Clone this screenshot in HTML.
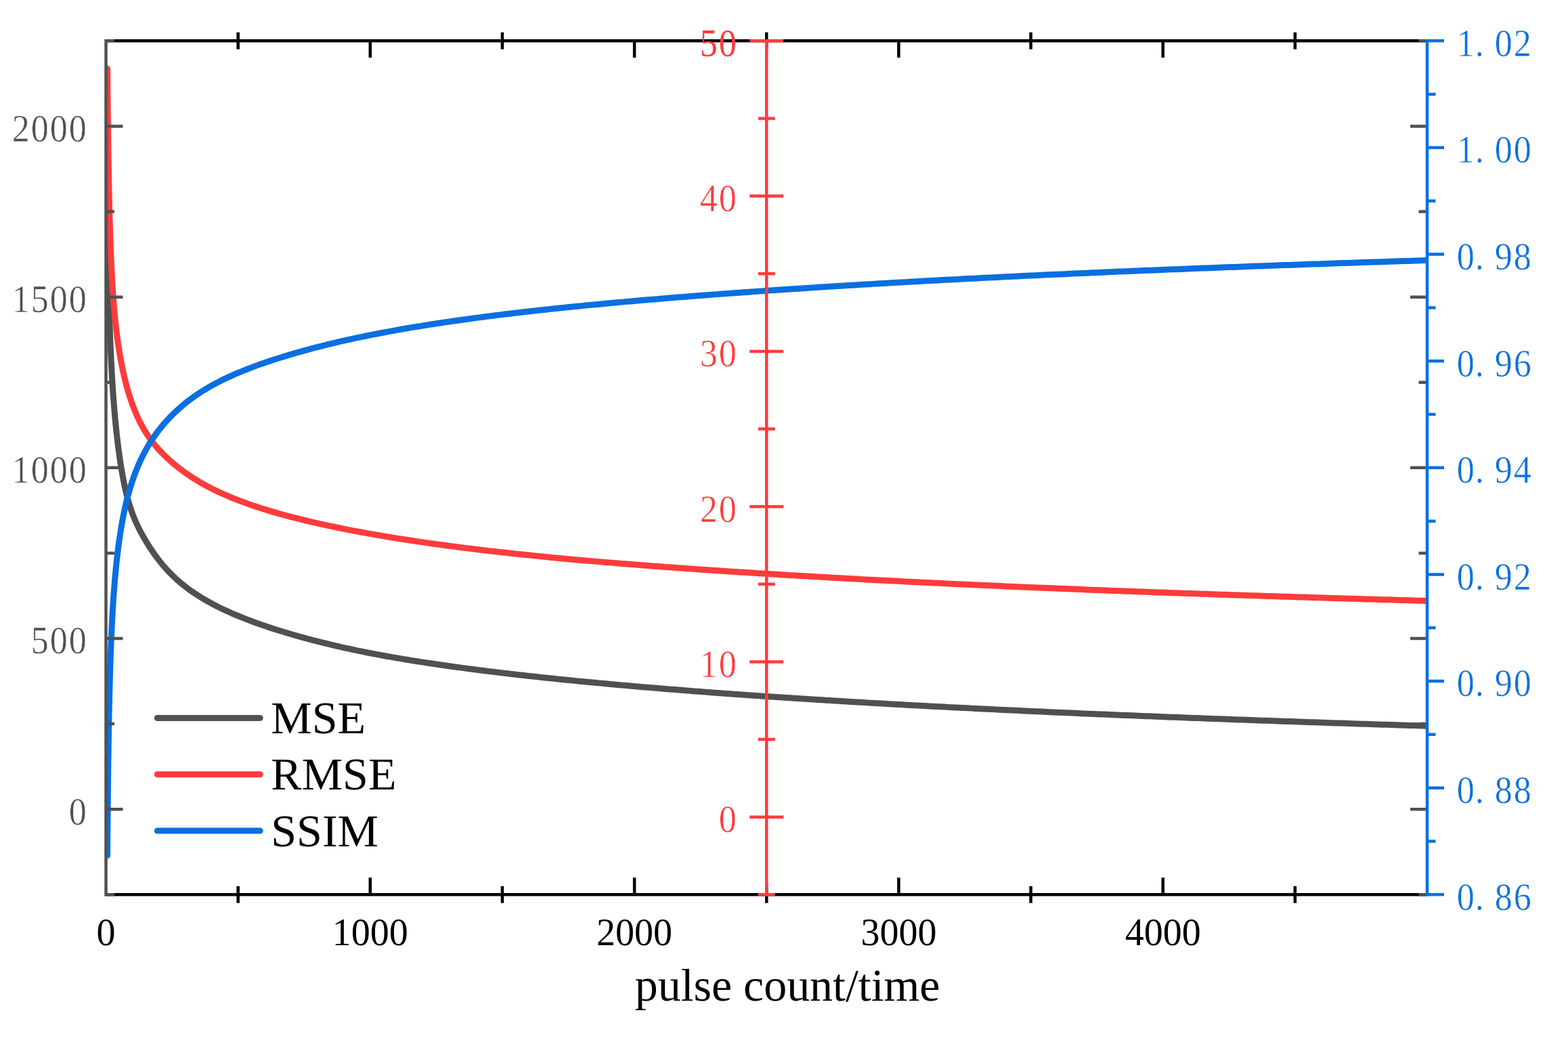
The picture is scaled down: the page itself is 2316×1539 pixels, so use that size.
<!DOCTYPE html>
<html lang="en"><head><meta charset="utf-8"><title>MSE, RMSE and SSIM versus pulse count/time</title>
<style>
html,body{margin:0;padding:0;background:#fff;}
body{width:2316px;height:1539px;overflow:hidden;}
svg{display:block;}
.tk{font-family:"Liberation Serif","Noto Serif CJK SC",serif;font-size:56px;}
.xl{font-family:"Liberation Serif",serif;font-size:56px;fill:#000;text-anchor:middle;}
.lg{font-family:"Liberation Serif",serif;font-size:68px;fill:#000;}
.ttl{font-family:"Liberation Serif",serif;font-size:67.9px;fill:#000;}
</style></head><body>
<svg xmlns="http://www.w3.org/2000/svg" width="2316" height="1539" viewBox="0 0 2316 1539">
<rect width="2316" height="1539" fill="#fff"/>
<clipPath id="plot"><rect x="156.5" y="60.35" width="1951.5" height="1260.95"/></clipPath>
<g fill="none" stroke-width="9" stroke-linecap="round" stroke-linejoin="round" clip-path="url(#plot)">
<path stroke="#505050" d="M158.58 335 L158.65 340.13 L158.73 345.27 L158.81 350.43 L158.89 355.43 L158.97 360.44 L159.06 365.46 L159.15 370.5 L159.24 375.55 L159.34 380.61 L159.43 385.68 L159.54 390.77 L159.64 395.87 L159.75 400.98 L159.87 406.1 L159.98 411.24 L160.1 416.39 L160.23 421.55 L160.35 426.55 L160.48 431.57 L160.62 436.59 L160.76 441.63 L160.9 446.68 L161.05 451.74 L161.2 456.82 L161.36 461.9 L161.52 467 L161.69 472.11 L161.87 477.22 L162.05 482.34 L162.23 487.47 L162.43 492.6 L162.63 497.73 L162.83 502.86 L163.05 508 L163.27 513.13 L163.49 518.26 L163.73 523.38 L163.97 528.5 L164.22 533.61 L164.48 538.71 L164.75 543.81 L165.03 548.89 L165.32 553.95 L165.61 559.01 L165.92 564.05 L166.24 569.07 L166.56 574.07 L166.91 579.23 L167.28 584.37 L167.65 589.49 L168.04 594.58 L168.44 599.66 L168.86 604.73 L169.29 609.77 L169.73 614.79 L170.2 619.8 L170.67 624.79 L171.18 629.92 L171.71 635.04 L172.26 640.14 L172.83 645.22 L173.41 650.28 L174.02 655.32 L174.65 660.35 L175.31 665.36 L175.99 670.34 L176.69 675.32 L177.41 680.26 L178.19 685.34 L179 690.39 L179.84 695.39 L180.7 700.35 L181.63 705.41 L182.6 710.4 L183.6 715.33 L184.67 720.33 L185.78 725.25 L186.98 730.21 L188.22 735.07 L189.55 739.95 L190.97 744.84 L192.5 749.71 L194.14 754.56 L195.85 759.27 L197.69 763.99 L199.66 768.71 L201.73 773.36 L203.9 777.94 L206.17 782.48 L208.55 786.99 L210.98 791.4 L213.52 795.83 L216.12 800.19 L218.76 804.48 L221.52 808.8 L224.32 813.04 L227.17 817.17 L230.13 821.31 L233.13 825.34 L236.25 829.36 L239.41 833.24 L242.69 837.11 L246.1 840.95 L249.54 844.64 L253.11 848.3 L256.7 851.8 L260.43 855.26 L264.29 858.68 L268.17 861.95 L272.19 865.19 L276.22 868.29 L280.25 871.26 L284.42 874.2 L288.57 877.01 L292.86 879.8 L297.12 882.46 L301.52 885.1 L305.89 887.63 L310.39 890.13 L314.84 892.53 L319.42 894.9 L323.95 897.17 L328.6 899.43 L333.17 901.58 L337.87 903.72 L342.48 905.76 L347.21 907.8 L351.84 909.73 L356.57 911.66 L361.43 913.59 L366.16 915.42 L371 917.25 L375.7 918.98 L380.5 920.71 L385.41 922.44 L390.16 924.08 L395.01 925.72 L399.96 927.36 L404.73 928.91 L409.59 930.47 L414.55 932.02 L419.6 933.57 L424.45 935.03 L429.39 936.5 L434.42 937.96 L439.54 939.42 L444.43 940.79 L449.4 942.16 L454.45 943.53 L459.6 944.89 L464.48 946.17 L469.44 947.44 L474.48 948.7 L479.6 949.97 L484.8 951.23 L489.71 952.4 L494.69 953.57 L499.74 954.73 L504.87 955.89 L510.08 957.05 L515.36 958.2 L520.31 959.26 L525.33 960.32 L530.41 961.37 L535.57 962.42 L540.79 963.47 L546.09 964.51 L551.01 965.46 L555.99 966.41 L561.04 967.35 L566.15 968.29 L571.33 969.23 L576.57 970.16 L581.87 971.09 L587.24 972.02 L592.19 972.86 L597.19 973.7 L602.25 974.53 L607.36 975.37 L612.54 976.2 L617.77 977.02 L623.06 977.85 L628.42 978.67 L633.83 979.5 L639.31 980.32 L644.3 981.05 L649.33 981.79 L654.42 982.52 L659.56 983.25 L664.75 983.98 L670 984.71 L675.3 985.44 L680.65 986.16 L686.07 986.89 L691.53 987.61 L697.06 988.33 L702.64 989.05 L707.64 989.69 L712.7 990.33 L717.8 990.97 L722.95 991.61 L728.14 992.24 L733.38 992.88 L738.67 993.51 L744.01 994.15 L749.4 994.78 L754.84 995.41 L760.33 996.04 L765.86 996.68 L771.45 997.31 L777.09 997.94 L782.07 998.49 L787.08 999.04 L792.14 999.59 L797.24 1000.14 L802.38 1000.69 L807.56 1001.24 L812.78 1001.79 L818.04 1002.34 L823.35 1002.88 L828.7 1003.43 L834.09 1003.98 L839.52 1004.53 L845 1005.07 L850.52 1005.62 L856.09 1006.16 L861.7 1006.71 L867.35 1007.25 L873.05 1007.8 L878.8 1008.34 L884.59 1008.89 L889.6 1009.35 L894.63 1009.82 L899.7 1010.28 L904.81 1010.75 L909.95 1011.21 L915.13 1011.68 L920.34 1012.14 L925.59 1012.6 L930.87 1013.07 L936.19 1013.53 L941.55 1013.99 L946.94 1014.46 L952.37 1014.92 L957.84 1015.38 L963.34 1015.84 L968.89 1016.3 L974.47 1016.76 L980.09 1017.23 L985.75 1017.69 L991.44 1018.15 L997.18 1018.61 L1002.95 1019.07 L1008.77 1019.52 L1014.62 1019.98 L1020.52 1020.44 L1026.46 1020.9 L1032.43 1021.36 L1037.44 1021.74 L1042.49 1022.12 L1047.56 1022.5 L1052.65 1022.89 L1057.78 1023.27 L1062.94 1023.65 L1068.12 1024.03 L1073.34 1024.41 L1078.59 1024.79 L1083.86 1025.17 L1089.17 1025.55 L1094.51 1025.93 L1099.87 1026.31 L1105.27 1026.68 L1110.7 1027.06 L1116.16 1027.44 L1121.65 1027.82 L1127.17 1028.2 L1132.73 1028.58 L1138.31 1028.95 L1143.93 1029.33 L1149.58 1029.71 L1155.26 1030.09 L1160.98 1030.46 L1166.73 1030.84 L1172.51 1031.22 L1178.32 1031.59 L1184.17 1031.97 L1190.05 1032.35 L1195.96 1032.72 L1201.91 1033.1 L1207.89 1033.47 L1213.91 1033.85 L1219.96 1034.22 L1226.04 1034.6 L1232.16 1034.97 L1238.32 1035.34 L1244.51 1035.72 L1250.73 1036.09 L1255.74 1036.39 L1260.77 1036.69 L1265.82 1036.99 L1270.89 1037.28 L1275.99 1037.58 L1281.11 1037.88 L1286.26 1038.18 L1291.43 1038.47 L1296.62 1038.77 L1301.83 1039.07 L1307.07 1039.36 L1312.34 1039.66 L1317.63 1039.96 L1322.94 1040.25 L1328.27 1040.55 L1333.64 1040.84 L1339.02 1041.14 L1344.43 1041.43 L1349.86 1041.73 L1355.32 1042.02 L1360.81 1042.32 L1366.32 1042.61 L1371.85 1042.91 L1377.41 1043.2 L1383 1043.5 L1388.61 1043.79 L1394.25 1044.08 L1399.91 1044.38 L1405.6 1044.67 L1411.31 1044.96 L1417.05 1045.25 L1422.82 1045.55 L1428.61 1045.84 L1434.43 1046.13 L1440.28 1046.42 L1446.15 1046.71 L1452.05 1047 L1457.98 1047.29 L1463.93 1047.58 L1469.92 1047.87 L1475.92 1048.16 L1481.96 1048.45 L1488.02 1048.74 L1494.12 1049.03 L1500.24 1049.32 L1506.38 1049.61 L1512.56 1049.9 L1518.76 1050.19 L1524.99 1050.48 L1531.25 1050.76 L1537.54 1051.05 L1543.86 1051.34 L1550.21 1051.63 L1556.59 1051.91 L1562.99 1052.2 L1569.43 1052.49 L1575.89 1052.77 L1582.38 1053.06 L1588.91 1053.34 L1595.46 1053.63 L1602.04 1053.91 L1608.66 1054.2 L1615.3 1054.48 L1620.3 1054.69 L1625.32 1054.91 L1630.36 1055.12 L1635.41 1055.33 L1640.48 1055.55 L1645.57 1055.76 L1650.68 1055.97 L1655.8 1056.18 L1660.94 1056.39 L1666.1 1056.61 L1671.28 1056.82 L1676.47 1057.03 L1681.69 1057.24 L1686.92 1057.45 L1692.17 1057.66 L1697.43 1057.87 L1702.72 1058.08 L1708.02 1058.29 L1713.34 1058.5 L1718.68 1058.72 L1724.03 1058.93 L1729.41 1059.14 L1734.8 1059.35 L1740.22 1059.56 L1745.65 1059.77 L1751.1 1059.98 L1756.56 1060.19 L1762.05 1060.4 L1767.56 1060.6 L1773.08 1060.81 L1778.63 1061.02 L1784.19 1061.23 L1789.77 1061.44 L1795.37 1061.65 L1800.99 1061.86 L1806.63 1062.07 L1812.29 1062.28 L1817.97 1062.49 L1823.66 1062.69 L1829.38 1062.9 L1835.12 1063.11 L1840.87 1063.32 L1846.65 1063.53 L1852.45 1063.74 L1858.26 1063.94 L1864.1 1064.15 L1869.95 1064.36 L1875.83 1064.57 L1881.73 1064.78 L1887.64 1064.98 L1893.58 1065.19 L1899.53 1065.4 L1905.51 1065.61 L1911.51 1065.81 L1917.53 1066.02 L1923.57 1066.23 L1929.63 1066.44 L1935.71 1066.64 L1941.81 1066.85 L1947.93 1067.06 L1954.07 1067.27 L1960.24 1067.47 L1966.42 1067.68 L1972.63 1067.89 L1978.86 1068.09 L1985.11 1068.3 L1991.38 1068.51 L1997.67 1068.71 L2003.98 1068.92 L2010.32 1069.13 L2016.68 1069.33 L2023.06 1069.54 L2029.46 1069.75 L2035.88 1069.95 L2042.32 1070.16 L2048.79 1070.37 L2055.28 1070.58 L2061.79 1070.78 L2068.32 1070.99 L2074.88 1071.2 L2081.46 1071.4 L2088.06 1071.61 L2094.68 1071.81 L2101.33 1072.02 L2108 1072.23"/>
<path stroke="#ff3b3b" d="M158.62 101.5 L158.66 106.58 L158.7 111.64 L158.75 116.67 L158.79 121.69 L158.84 126.97 L158.89 132.22 L158.94 137.44 L158.99 142.63 L159.04 147.8 L159.09 152.94 L159.14 158.05 L159.2 163.13 L159.26 168.18 L159.31 173.2 L159.37 178.48 L159.44 183.72 L159.5 188.93 L159.57 194.1 L159.63 199.25 L159.7 204.37 L159.77 209.45 L159.84 214.51 L159.92 219.53 L159.99 224.78 L160.07 230 L160.16 235.18 L160.24 240.33 L160.33 245.45 L160.42 250.53 L160.51 255.57 L160.6 260.59 L160.7 265.81 L160.8 271 L160.9 276.15 L161.01 281.26 L161.12 286.34 L161.23 291.37 L161.34 296.37 L161.47 301.57 L161.59 306.73 L161.72 311.84 L161.85 316.91 L161.99 321.93 L162.14 327.14 L162.28 332.3 L162.44 337.41 L162.6 342.47 L162.76 347.48 L162.93 352.66 L163.11 357.78 L163.29 362.85 L163.48 367.86 L163.68 373.02 L163.89 378.11 L164.1 383.15 L164.33 388.31 L164.56 393.41 L164.81 398.44 L165.06 403.59 L165.33 408.66 L165.61 413.65 L165.9 418.75 L166.21 423.76 L166.53 428.86 L166.87 433.87 L167.23 438.97 L167.6 443.98 L168 449.06 L168.41 454.06 L168.85 459.14 L169.31 464.14 L169.8 469.22 L170.31 474.22 L170.86 479.3 L171.42 484.3 L172.03 489.4 L172.66 494.43 L173.31 499.4 L174.02 504.48 L174.75 509.5 L175.51 514.49 L176.31 519.45 L177.14 524.39 L178.02 529.43 L178.95 534.45 L179.91 539.43 L180.92 544.39 L181.97 549.31 L183.06 554.2 L184.24 559.19 L185.46 564.14 L186.74 569.05 L188.08 573.92 L189.47 578.76 L190.93 583.55 L192.49 588.42 L194.13 593.25 L195.83 598.03 L197.62 602.76 L199.48 607.43 L201.43 612.04 L203.52 616.71 L205.71 621.32 L208 625.85 L210.4 630.31 L212.91 634.7 L215.54 639.01 L218.29 643.23 L221.16 647.39 L224.17 651.48 L227.32 655.52 L230.54 659.4 L233.9 663.24 L237.32 666.95 L240.89 670.63 L244.51 674.19 L248.19 677.65 L251.92 680.99 L255.79 684.34 L259.71 687.59 L263.66 690.73 L267.63 693.78 L271.75 696.81 L275.89 699.75 L280.03 702.58 L284.32 705.39 L288.61 708.1 L292.88 710.7 L297.3 713.29 L301.69 715.76 L306.22 718.23 L310.71 720.58 L315.34 722.92 L319.92 725.15 L324.64 727.36 L329.29 729.48 L333.87 731.49 L338.58 733.49 L343.4 735.48 L348.14 737.37 L353 739.25 L357.75 741.04 L362.61 742.82 L367.36 744.51 L372.21 746.2 L377.17 747.87 L381.99 749.46 L386.92 751.04 L391.96 752.62 L396.83 754.11 L401.8 755.59 L406.87 757.07 L411.76 758.47 L416.75 759.86 L421.83 761.25 L426.7 762.56 L431.67 763.86 L436.72 765.16 L441.87 766.46 L446.78 767.67 L451.78 768.88 L456.86 770.1 L462.03 771.3 L466.93 772.43 L471.92 773.55 L476.98 774.68 L482.12 775.8 L487.35 776.91 L492.28 777.95 L497.28 778.99 L502.36 780.02 L507.51 781.06 L512.74 782.09 L518.05 783.12 L523.02 784.07 L528.06 785.02 L533.17 785.97 L538.34 786.91 L543.59 787.86 L548.91 788.81 L553.85 789.67 L558.86 790.54 L563.92 791.4 L569.06 792.26 L574.25 793.12 L579.51 793.98 L584.84 794.84 L590.23 795.7 L595.19 796.48 L600.21 797.26 L605.29 798.03 L610.42 798.81 L615.62 799.58 L620.87 800.36 L626.18 801.13 L631.56 801.9 L636.99 802.67 L642.49 803.44 L647.49 804.13 L652.54 804.82 L657.65 805.5 L662.81 806.19 L668.02 806.88 L673.28 807.56 L678.6 808.24 L683.97 808.93 L689.4 809.61 L694.88 810.28 L700.42 810.96 L705.4 811.56 L710.42 812.16 L715.48 812.76 L720.59 813.36 L725.75 813.96 L730.95 814.55 L736.2 815.15 L741.5 815.74 L746.85 816.33 L752.25 816.92 L757.7 817.51 L763.19 818.1 L768.74 818.69 L774.34 819.27 L779.98 819.85 L784.97 820.36 L789.99 820.87 L795.06 821.38 L800.16 821.89 L805.31 822.39 L810.5 822.9 L815.73 823.4 L821 823.91 L826.31 824.41 L831.67 824.91 L837.06 825.41 L842.5 825.91 L847.99 826.41 L853.52 826.9 L859.09 827.4 L864.71 827.9 L870.37 828.39 L876.08 828.89 L881.83 829.38 L887.63 829.88 L892.64 830.3 L897.68 830.72 L902.76 831.14 L907.87 831.56 L913.01 831.98 L918.19 832.4 L923.41 832.82 L928.66 833.24 L933.95 833.66 L939.28 834.08 L944.64 834.5 L950.04 834.91 L955.47 835.33 L960.94 835.75 L966.45 836.16 L972 836.58 L977.59 837 L983.21 837.41 L988.87 837.83 L994.57 838.24 L1000.31 838.66 L1006.09 839.07 L1011.91 839.49 L1017.77 839.9 L1023.67 840.32 L1029.61 840.73 L1035.59 841.14 L1040.6 841.49 L1045.65 841.83 L1050.72 842.18 L1055.82 842.52 L1060.95 842.86 L1066.11 843.21 L1071.3 843.55 L1076.51 843.9 L1081.76 844.24 L1087.04 844.58 L1092.35 844.93 L1097.69 845.27 L1103.06 845.61 L1108.45 845.96 L1113.89 846.3 L1119.35 846.64 L1124.84 846.99 L1130.36 847.33 L1135.92 847.67 L1141.5 848.02 L1147.12 848.36 L1152.77 848.7 L1158.46 849.05 L1164.17 849.39 L1169.92 849.73 L1175.7 850.08 L1181.52 850.42 L1187.36 850.76 L1193.24 851.11 L1199.16 851.45 L1205.1 851.79 L1211.09 852.13 L1217.1 852.48 L1223.15 852.82 L1229.24 853.16 L1235.35 853.5 L1241.51 853.85 L1247.7 854.19 L1253.92 854.53 L1258.93 854.8 L1263.96 855.08 L1269.01 855.35 L1274.08 855.62 L1279.18 855.9 L1284.3 856.17 L1289.44 856.44 L1294.61 856.72 L1299.8 856.99 L1305.01 857.26 L1310.25 857.53 L1315.51 857.8 L1320.8 858.08 L1326.11 858.35 L1331.45 858.62 L1336.8 858.89 L1342.19 859.16 L1347.59 859.43 L1353.03 859.7 L1358.48 859.98 L1363.97 860.25 L1369.47 860.52 L1375.01 860.79 L1380.56 861.06 L1386.15 861.33 L1391.75 861.6 L1397.39 861.87 L1403.05 862.14 L1408.73 862.4 L1414.44 862.67 L1420.18 862.94 L1425.94 863.21 L1431.73 863.48 L1437.55 863.75 L1443.39 864.02 L1449.26 864.28 L1455.16 864.55 L1461.08 864.82 L1467.03 865.08 L1473.01 865.35 L1479.01 865.62 L1485.04 865.88 L1491.1 866.15 L1497.19 866.41 L1503.31 866.68 L1509.45 866.94 L1515.62 867.21 L1521.82 867.47 L1528.04 867.74 L1534.3 868 L1540.58 868.27 L1546.9 868.53 L1553.24 868.79 L1559.61 869.05 L1566.01 869.32 L1572.44 869.58 L1578.89 869.84 L1585.38 870.1 L1591.9 870.36 L1598.44 870.62 L1605.02 870.89 L1611.63 871.15 L1618.26 871.41 L1623.26 871.6 L1628.28 871.79 L1633.31 871.99 L1638.36 872.18 L1643.42 872.38 L1648.51 872.57 L1653.61 872.76 L1658.72 872.96 L1663.86 873.15 L1669.01 873.34 L1674.18 873.54 L1679.37 873.73 L1684.58 873.92 L1689.8 874.12 L1695.04 874.31 L1700.3 874.5 L1705.58 874.69 L1710.88 874.88 L1716.19 875.08 L1721.52 875.27 L1726.87 875.46 L1732.24 875.65 L1737.63 875.84 L1743.03 876.03 L1748.46 876.22 L1753.9 876.42 L1759.36 876.61 L1764.84 876.8 L1770.34 876.99 L1775.86 877.18 L1781.39 877.37 L1786.95 877.56 L1792.52 877.75 L1798.12 877.94 L1803.73 878.13 L1809.36 878.32 L1815.01 878.51 L1820.68 878.7 L1826.37 878.89 L1832.08 879.08 L1837.81 879.27 L1843.55 879.46 L1849.32 879.64 L1855.11 879.83 L1860.92 880.02 L1866.74 880.21 L1872.59 880.4 L1878.46 880.59 L1884.34 880.78 L1890.25 880.97 L1896.18 881.15 L1902.12 881.34 L1908.09 881.53 L1914.08 881.72 L1920.09 881.91 L1926.12 882.1 L1932.17 882.28 L1938.24 882.47 L1944.33 882.66 L1950.44 882.85 L1956.57 883.04 L1962.73 883.22 L1968.9 883.41 L1975.1 883.6 L1981.32 883.79 L1987.55 883.98 L1993.81 884.16 L2000.1 884.35 L2006.4 884.54 L2012.72 884.73 L2019.07 884.91 L2025.44 885.1 L2031.82 885.29 L2038.24 885.48 L2044.67 885.66 L2051.12 885.85 L2057.6 886.04 L2064.1 886.22 L2070.62 886.41 L2077.17 886.6 L2083.73 886.79 L2090.32 886.97 L2096.93 887.16 L2103.56 887.35 L2108 887.47"/>
<path stroke="#0a6fe0" d="M158.57 1263.5 L158.6 1258.41 L158.64 1253.35 L158.67 1248.31 L158.71 1243.28 L158.75 1237.95 L158.79 1232.65 L158.84 1227.37 L158.88 1222.12 L158.92 1216.89 L158.97 1211.7 L159.01 1206.53 L159.06 1201.39 L159.11 1196.27 L159.16 1191.19 L159.2 1186.14 L159.25 1181.11 L159.31 1175.8 L159.36 1170.52 L159.42 1165.28 L159.48 1160.07 L159.53 1154.89 L159.59 1149.75 L159.66 1144.63 L159.72 1139.56 L159.78 1134.51 L159.84 1129.5 L159.91 1124.23 L159.98 1119 L160.06 1113.81 L160.13 1108.65 L160.21 1103.54 L160.28 1098.46 L160.36 1093.42 L160.45 1088.15 L160.53 1082.92 L160.62 1077.73 L160.71 1072.59 L160.8 1067.49 L160.9 1062.43 L161 1057.42 L161.1 1052.2 L161.21 1047.02 L161.31 1041.9 L161.43 1036.82 L161.54 1031.8 L161.66 1026.57 L161.79 1021.4 L161.92 1016.28 L162.05 1011.2 L162.18 1006.18 L162.33 1000.98 L162.47 995.82 L162.63 990.72 L162.78 985.67 L162.94 980.67 L163.11 975.5 L163.29 970.38 L163.47 965.32 L163.66 960.3 L163.85 955.12 L164.06 950 L164.27 944.93 L164.48 939.91 L164.72 934.73 L164.95 929.61 L165.2 924.54 L165.45 919.52 L165.72 914.36 L166 909.24 L166.28 904.18 L166.58 899.17 L166.89 894.02 L167.22 888.91 L167.56 883.86 L167.9 878.86 L168.27 873.73 L168.66 868.65 L169.05 863.61 L169.47 858.45 L169.91 853.35 L170.36 848.29 L170.83 843.28 L171.33 838.15 L171.84 833.07 L172.38 828.03 L172.93 823.05 L173.52 817.94 L174.14 812.89 L174.77 807.88 L175.43 802.91 L176.14 797.83 L176.87 792.8 L177.63 787.81 L178.41 782.86 L179.25 777.8 L180.13 772.79 L181.04 767.83 L181.98 762.91 L182.99 757.9 L184.03 752.92 L185.12 748 L186.26 743.13 L187.47 738.16 L188.73 733.24 L190.05 728.37 L191.42 723.55 L192.88 718.64 L194.41 713.79 L196 708.98 L197.66 704.22 L199.39 699.51 L201.19 694.84 L203.12 690.09 L205.13 685.39 L207.23 680.72 L209.42 676.11 L211.7 671.53 L214.08 666.99 L216.5 662.61 L219.02 658.27 L221.64 653.96 L224.37 649.69 L227.22 645.44 L230.11 641.35 L233.11 637.28 L236.23 633.24 L239.39 629.35 L242.67 625.47 L246.08 621.62 L249.52 617.91 L253.1 614.22 L256.69 610.66 L260.42 607.12 L264.17 603.71 L268.05 600.32 L271.93 597.06 L275.96 593.83 L279.98 590.73 L284.14 587.65 L288.28 584.7 L292.57 581.78 L296.83 578.98 L301.22 576.21 L305.58 573.57 L310.08 570.96 L314.52 568.47 L319.1 566 L323.62 563.65 L328.26 561.32 L332.83 559.11 L337.53 556.91 L342.13 554.81 L346.86 552.73 L351.48 550.76 L356.21 548.79 L361.06 546.83 L365.78 544.97 L370.62 543.11 L375.32 541.36 L380.12 539.6 L385.02 537.85 L389.77 536.19 L394.61 534.53 L399.56 532.87 L404.32 531.31 L409.18 529.74 L414.13 528.17 L419.18 526.6 L424.03 525.13 L428.96 523.65 L433.99 522.17 L439.1 520.69 L443.99 519.31 L448.95 517.93 L454.01 516.54 L459.15 515.16 L464.02 513.87 L468.98 512.59 L474.02 511.3 L479.13 510.02 L484.33 508.74 L489.24 507.55 L494.21 506.36 L499.27 505.18 L504.39 503.99 L509.6 502.81 L514.88 501.64 L519.82 500.55 L524.84 499.47 L529.92 498.39 L535.07 497.31 L540.29 496.24 L545.59 495.17 L550.51 494.19 L555.49 493.21 L560.53 492.24 L565.64 491.27 L570.81 490.3 L576.05 489.33 L581.35 488.36 L586.73 487.4 L591.67 486.53 L596.66 485.66 L601.72 484.79 L606.83 483.93 L612.01 483.06 L617.24 482.2 L622.53 481.34 L627.88 480.48 L633.3 479.63 L638.77 478.77 L643.76 478 L648.79 477.24 L653.88 476.48 L659.01 475.71 L664.21 474.95 L669.45 474.19 L674.75 473.44 L680.11 472.68 L685.51 471.93 L690.98 471.17 L696.5 470.42 L701.46 469.76 L706.46 469.09 L711.51 468.43 L716.6 467.77 L721.74 467.11 L726.93 466.45 L732.17 465.79 L737.45 465.13 L742.78 464.48 L748.16 463.82 L753.59 463.17 L759.07 462.52 L764.6 461.86 L770.18 461.21 L775.82 460.57 L780.79 460 L785.8 459.43 L790.85 458.87 L795.94 458.31 L801.07 457.74 L806.25 457.18 L811.46 456.62 L816.72 456.06 L822.02 455.5 L827.36 454.94 L832.74 454.39 L838.17 453.83 L843.64 453.27 L849.16 452.72 L854.72 452.16 L860.32 451.61 L865.97 451.06 L871.66 450.5 L877.4 449.95 L883.19 449.4 L888.19 448.93 L893.22 448.46 L898.28 447.99 L903.38 447.52 L908.52 447.05 L913.69 446.58 L918.9 446.11 L924.14 445.64 L929.42 445.17 L934.73 444.7 L940.08 444.23 L945.47 443.77 L950.89 443.3 L956.35 442.83 L961.85 442.37 L967.39 441.9 L972.97 441.43 L978.58 440.97 L984.23 440.5 L989.92 440.04 L995.65 439.57 L1001.42 439.11 L1007.23 438.65 L1013.08 438.18 L1018.97 437.72 L1024.9 437.26 L1030.87 436.79 L1035.88 436.41 L1040.92 436.02 L1045.98 435.64 L1051.08 435.25 L1056.2 434.87 L1061.35 434.48 L1066.53 434.1 L1071.74 433.71 L1076.98 433.33 L1082.25 432.94 L1087.56 432.56 L1092.89 432.17 L1098.25 431.79 L1103.64 431.4 L1109.07 431.02 L1114.52 430.63 L1120.01 430.25 L1125.53 429.87 L1131.07 429.48 L1136.66 429.1 L1142.27 428.71 L1147.91 428.33 L1153.59 427.95 L1159.3 427.56 L1165.04 427.18 L1170.82 426.79 L1176.63 426.41 L1182.47 426.03 L1188.34 425.64 L1194.25 425.26 L1200.19 424.88 L1206.17 424.49 L1212.18 424.11 L1218.23 423.73 L1224.31 423.34 L1230.42 422.96 L1236.57 422.58 L1242.76 422.2 L1248.98 421.81 L1253.98 421.51 L1259 421.2 L1264.05 420.9 L1269.12 420.59 L1274.22 420.29 L1279.34 419.98 L1284.48 419.68 L1289.64 419.37 L1294.83 419.07 L1300.04 418.76 L1305.28 418.46 L1310.54 418.15 L1315.82 417.85 L1321.13 417.54 L1326.46 417.24 L1331.82 416.94 L1337.2 416.63 L1342.6 416.33 L1348.04 416.02 L1353.49 415.72 L1358.97 415.42 L1364.48 415.11 L1370.01 414.81 L1375.56 414.51 L1381.15 414.21 L1386.75 413.9 L1392.38 413.6 L1398.04 413.3 L1403.73 413 L1409.44 412.7 L1415.18 412.4 L1420.94 412.09 L1426.73 411.79 L1432.54 411.49 L1438.39 411.19 L1444.25 410.89 L1450.15 410.59 L1456.07 410.29 L1462.02 409.99 L1468 409.69 L1474.01 409.39 L1480.04 409.09 L1486.1 408.79 L1492.19 408.5 L1498.3 408.2 L1504.45 407.9 L1510.62 407.6 L1516.82 407.3 L1523.05 407.01 L1529.3 406.71 L1535.59 406.41 L1541.9 406.12 L1548.24 405.82 L1554.62 405.52 L1561.02 405.23 L1567.45 404.93 L1573.91 404.64 L1580.4 404.34 L1586.92 404.05 L1593.47 403.75 L1600.05 403.46 L1606.66 403.16 L1613.3 402.87 L1618.3 402.65 L1623.31 402.43 L1628.35 402.21 L1633.4 401.99 L1638.47 401.77 L1643.55 401.55 L1648.66 401.33 L1653.78 401.11 L1658.92 400.9 L1664.07 400.68 L1669.25 400.46 L1674.44 400.24 L1679.65 400.02 L1684.87 399.8 L1690.12 399.59 L1695.38 399.37 L1700.66 399.15 L1705.96 398.93 L1711.28 398.71 L1716.62 398.5 L1721.97 398.28 L1727.34 398.06 L1732.74 397.85 L1738.14 397.63 L1743.57 397.41 L1749.02 397.2 L1754.49 396.98 L1759.97 396.76 L1765.47 396.55 L1770.99 396.33 L1776.54 396.11 L1782.09 395.9 L1787.67 395.68 L1793.27 395.47 L1798.89 395.25 L1804.53 395.03 L1810.18 394.82 L1815.86 394.6 L1821.55 394.39 L1827.27 394.17 L1833 393.96 L1838.75 393.74 L1844.53 393.53 L1850.32 393.31 L1856.13 393.1 L1861.97 392.88 L1867.82 392.67 L1873.69 392.45 L1879.59 392.24 L1885.5 392.02 L1891.43 391.81 L1897.39 391.59 L1903.36 391.38 L1909.36 391.17 L1915.37 390.95 L1921.41 390.74 L1927.47 390.52 L1933.55 390.31 L1939.64 390.1 L1945.76 389.88 L1951.9 389.67 L1958.07 389.45 L1964.25 389.24 L1970.45 389.03 L1976.68 388.81 L1982.93 388.6 L1989.19 388.38 L1995.48 388.17 L2001.79 387.96 L2008.13 387.74 L2014.48 387.53 L2020.86 387.32 L2027.26 387.1 L2033.68 386.89 L2040.12 386.68 L2046.58 386.46 L2053.07 386.25 L2059.58 386.04 L2066.11 385.82 L2072.67 385.61 L2079.24 385.4 L2085.84 385.18 L2092.46 384.97 L2099.11 384.76 L2105.77 384.54 L2108 384.47"/>
</g>
<g stroke="#000000" stroke-width="4.5" fill="none">
<path d="M156.5 60.35 H2108 M156.5 1321.3 H2108"/>
<path d="M351.65 47.85 v25 M351.65 1308.8 v25 M546.8 60.35 v25 M546.8 1321.3 v-25 M741.95 47.85 v25 M741.95 1308.8 v25 M937.1 60.35 v25 M937.1 1321.3 v-25 M1132.25 47.85 v25 M1132.25 1308.8 v25 M1327.4 60.35 v25 M1327.4 1321.3 v-25 M1522.55 47.85 v25 M1522.55 1308.8 v25 M1717.7 60.35 v25 M1717.7 1321.3 v-25 M1912.85 47.85 v25 M1912.85 1308.8 v25"/>
</g>
<g stroke="#505050" stroke-width="4.5" fill="none">
<path d="M156.5 58.1 V1323.55"/>
<path d="M156.5 1321.3 h12.5 M2108 1321.3 h-12.5 M156.5 1195.2 h25 M2108 1195.2 h-25 M156.5 1069.11 h12.5 M2108 1069.11 h-12.5 M156.5 943.01 h25 M2108 943.01 h-25 M156.5 816.92 h12.5 M2108 816.92 h-12.5 M156.5 690.82 h25 M2108 690.82 h-25 M156.5 564.73 h12.5 M2108 564.73 h-12.5 M156.5 438.63 h25 M2108 438.63 h-25 M156.5 312.54 h12.5 M2108 312.54 h-12.5 M156.5 186.44 h25 M2108 186.44 h-25 M156.5 60.35 h12.5 M2108 60.35 h-12.5"/>
</g>
<g stroke="#ff3b3b" stroke-width="4.5" fill="none">
<path d="M1132.25 58.1 V1323.55"/>
<path d="M1119.75 1321.3 h25 M1107.25 1206.67 h50 M1119.75 1092.04 h25 M1107.25 977.4 h50 M1119.75 862.77 h25 M1107.25 748.14 h50 M1119.75 633.51 h25 M1107.25 518.88 h50 M1119.75 404.25 h25 M1107.25 289.61 h50 M1119.75 174.98 h25 M1107.25 60.35 h50"/>
</g>
<g stroke="#0a6fe0" stroke-width="4.5" fill="none">
<path d="M2108 58.1 V1323.55"/>
<path d="M2108 1321.3 h25 M2108 1242.49 h12.5 M2108 1163.68 h25 M2108 1084.87 h12.5 M2108 1006.06 h25 M2108 927.25 h12.5 M2108 848.44 h25 M2108 769.63 h12.5 M2108 690.83 h25 M2108 612.02 h12.5 M2108 533.21 h25 M2108 454.4 h12.5 M2108 375.59 h25 M2108 296.78 h12.5 M2108 217.97 h25 M2108 139.16 h12.5 M2108 60.35 h25"/>
</g>
<g class="tk" fill="#505050">
<text transform="scale(0.93,1)" x="109.44" y="1217.61" stroke="#fff" stroke-width="0.5">0</text>
<text transform="scale(0.93,1)" x="49.23 79.33 109.44" y="965.41" stroke="#fff" stroke-width="0.5">500</text>
<text transform="scale(0.93,1)" x="19.12 49.23 79.33 109.44" y="713.22" stroke="#fff" stroke-width="0.5">1000</text>
<text transform="scale(0.93,1)" x="19.12 49.23 79.33 109.44" y="461.03" stroke="#fff" stroke-width="0.5">1500</text>
<text transform="scale(0.93,1)" x="19.12 49.23 79.33 109.44" y="208.84" stroke="#fff" stroke-width="0.5">2000</text>
</g>
<g class="tk" fill="#ff3b3b">
<text transform="scale(0.93,1)" x="1141.59" y="1229.07" stroke="#fff" stroke-width="0.5">0</text>
<text transform="scale(0.93,1)" x="1111.48 1141.59" y="999.8" stroke="#fff" stroke-width="0.5">10</text>
<text transform="scale(0.93,1)" x="1111.48 1141.59" y="770.54" stroke="#fff" stroke-width="0.5">20</text>
<text transform="scale(0.93,1)" x="1111.48 1141.59" y="541.28" stroke="#fff" stroke-width="0.5">30</text>
<text transform="scale(0.93,1)" x="1111.48 1141.59" y="312.01" stroke="#fff" stroke-width="0.5">40</text>
<text transform="scale(0.93,1)" x="1111.48 1141.59" y="82.75">50</text>
</g>
<g class="tk" fill="#0a6fe0">
<text transform="scale(0.93,1)" x="2313.74 2342.8 2373.96 2404.06" y="1343.7" stroke="#fff" stroke-width="0.5">0.86</text>
<text transform="scale(0.93,1)" x="2313.74 2342.8 2373.96 2404.06" y="1186.08" stroke="#fff" stroke-width="0.5">0.88</text>
<text transform="scale(0.93,1)" x="2313.74 2342.8 2373.96 2404.06" y="1028.46" stroke="#fff" stroke-width="0.5">0.90</text>
<text transform="scale(0.93,1)" x="2313.74 2342.8 2373.96 2404.06" y="870.84" stroke="#fff" stroke-width="0.5">0.92</text>
<text transform="scale(0.93,1)" x="2313.74 2342.8 2373.96 2404.06" y="713.23" stroke="#fff" stroke-width="0.5">0.94</text>
<text transform="scale(0.93,1)" x="2313.74 2342.8 2373.96 2404.06" y="555.61" stroke="#fff" stroke-width="0.5">0.96</text>
<text transform="scale(0.93,1)" x="2313.74 2342.8 2373.96 2404.06" y="397.99" stroke="#fff" stroke-width="0.5">0.98</text>
<text transform="scale(0.93,1)" x="2313.74 2342.8 2373.96 2404.06" y="240.37" stroke="#fff" stroke-width="0.5">1.00</text>
<text transform="scale(0.93,1)" x="2313.74 2342.8 2373.96 2404.06" y="82.75" stroke="#fff" stroke-width="0.5">1.02</text>
</g>
<g class="xl">
<text x="156.5" y="1396.2">0</text>
<text x="546.8" y="1396.2">1000</text>
<text x="937.1" y="1396.2">2000</text>
<text x="1327.4" y="1396.2">3000</text>
<text x="1717.7" y="1396.2">4000</text>
</g>
<text class="ttl" x="937.8" y="1477.7">pulse count/time</text>
<path d="M232.3 1060.5 H384.2" stroke="#505050" stroke-width="9" stroke-linecap="round" fill="none"/>
<text class="lg" x="400.3" y="1082.5">MSE</text>
<path d="M232.3 1143.8 H384.2" stroke="#ff3b3b" stroke-width="9" stroke-linecap="round" fill="none"/>
<text class="lg" x="400.3" y="1165.8">RMSE</text>
<path d="M232.3 1227.1 H384.2" stroke="#0a6fe0" stroke-width="9" stroke-linecap="round" fill="none"/>
<text class="lg" x="400.3" y="1249.6">SSIM</text>
</svg>
</body></html>
